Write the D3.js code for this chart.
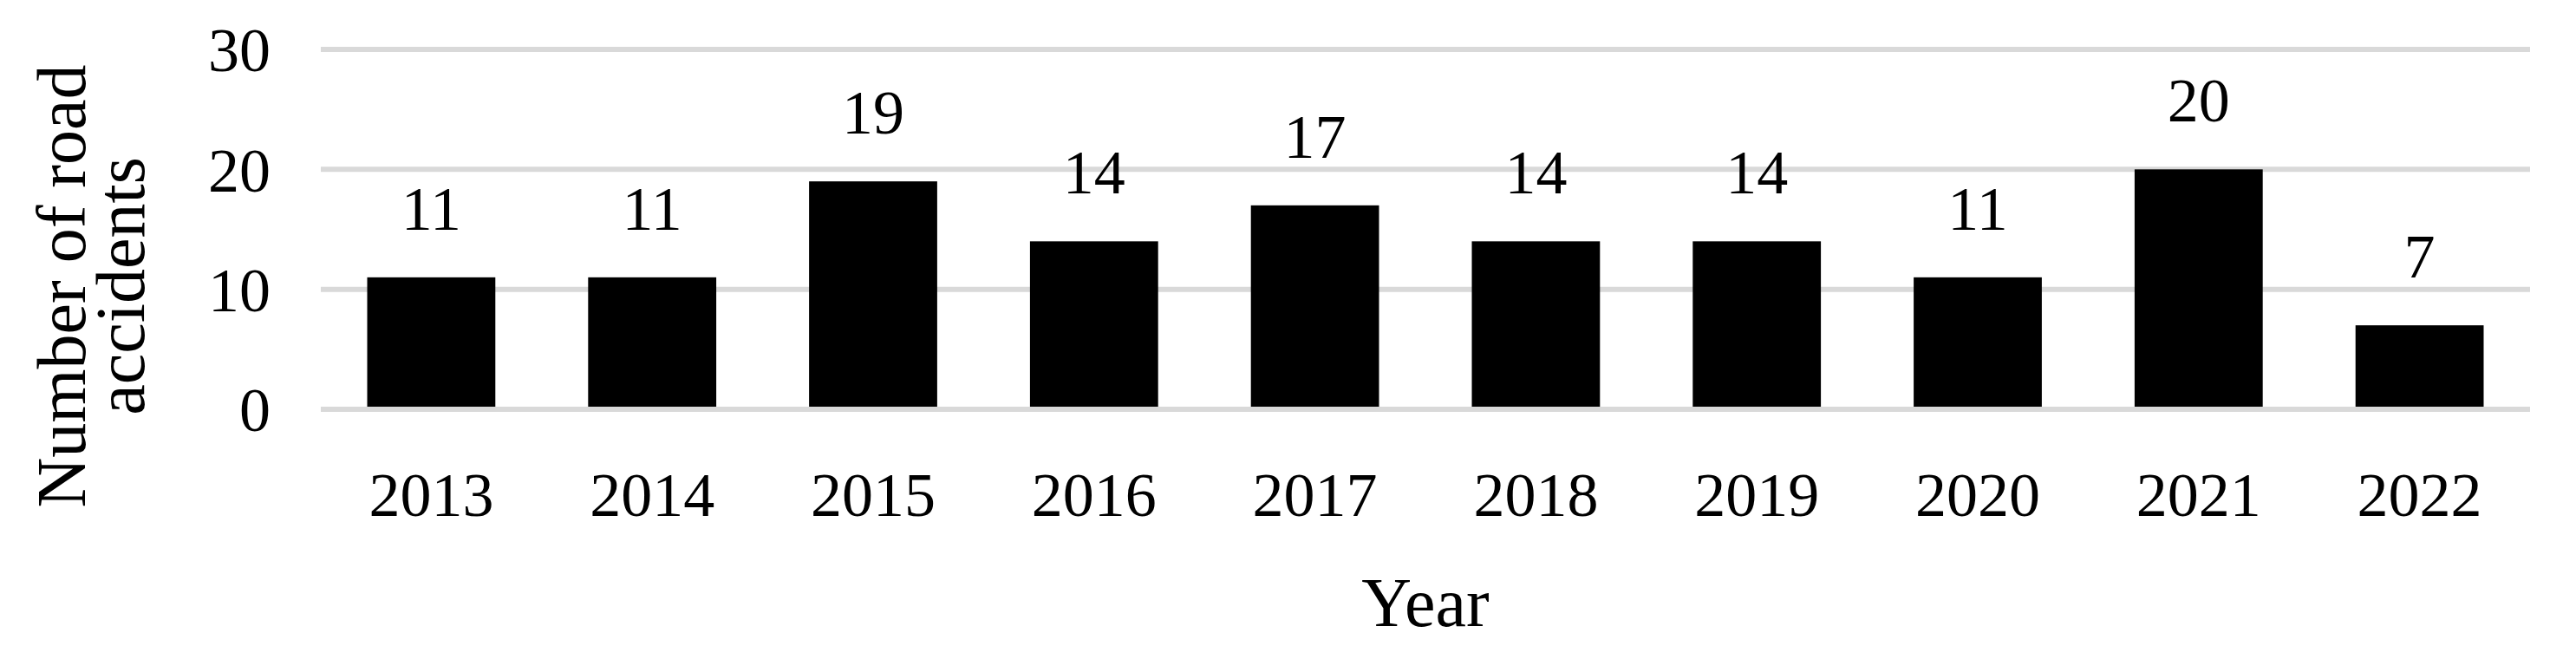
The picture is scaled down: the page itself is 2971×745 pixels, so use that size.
<!DOCTYPE html>
<html>
<head>
<meta charset="utf-8">
<script src="https://cdn.jsdelivr.net/npm/d3@7"></script>
<style>
  body { margin: 0; background: #fff; }
  text { font-family: "Liberation Serif", "DejaVu Serif", serif; fill: #000; }
</style>
</head>
<body>
<div id="chart"></div>
<script>
const years = ["2013", "2014", "2015", "2016", "2017", "2018", "2019", "2020", "2021", "2022"];
const accidents = [11, 11, 19, 14, 17, 14, 14, 11, 20, 7];
const yTicks = [0, 10, 20, 30];

const W = 2971, H = 745;
const margin = { left: 370, right: 53, top: 57, bottom: 273 };
const fontSize = 72;
const titleSize = 80;

const svg = d3.select("#chart").append("svg")
  .attr("width", W).attr("height", H);

const x = d3.scaleBand().domain(years)
  .range([margin.left, W - margin.right])
  .paddingInner(0.42).paddingOuter(0.21);
const y = d3.scaleLinear().domain([0, 30]).range([H - margin.bottom, margin.top]);

// gridlines
svg.append("g").selectAll("line").data(yTicks).enter().append("line")
  .attr("x1", margin.left).attr("x2", W - margin.right)
  .attr("y1", d => y(d)).attr("y2", d => y(d))
  .attr("stroke", "#d9d9d9").attr("stroke-width", 6);

// y tick labels
svg.append("g").selectAll("text").data(yTicks).enter().append("text")
  .attr("x", 312).attr("y", d => y(d))
  .attr("dy", "0.35em").attr("text-anchor", "end")
  .attr("font-size", fontSize).text(d => d);

// bars
svg.append("g").selectAll("rect").data(accidents).enter().append("rect")
  .attr("x", (d, i) => x(years[i]))
  .attr("width", x.bandwidth())
  .attr("y", d => y(d))
  .attr("height", d => y(0) - y(d) - 3)
  .attr("fill", "#000");

// value labels
svg.append("g").selectAll("text").data(accidents).enter().append("text")
  .attr("x", (d, i) => x(years[i]) + x.bandwidth() / 2)
  .attr("y", d => y(d) - 55)
  .attr("text-anchor", "middle")
  .attr("font-size", fontSize).text(d => d);

// x tick labels
svg.append("g").selectAll("text").data(years).enter().append("text")
  .attr("x", d => x(d) + x.bandwidth() / 2)
  .attr("y", 595)
  .attr("text-anchor", "middle")
  .attr("font-size", fontSize).text(d => d);

// x title
svg.append("text")
  .attr("x", (margin.left + W - margin.right) / 2)
  .attr("y", 722)
  .attr("text-anchor", "middle")
  .attr("font-size", titleSize).text("Year");

// y title
const yt = svg.append("text")
  .attr("transform", "translate(0," + 330 + ") rotate(-90)")
  .attr("text-anchor", "middle")
  .attr("font-size", titleSize);
yt.append("tspan").attr("x", 0).attr("y", 98).text("Number of road");
yt.append("tspan").attr("x", 0).attr("y", 166).text("accidents");
</script>
</body>
</html>
